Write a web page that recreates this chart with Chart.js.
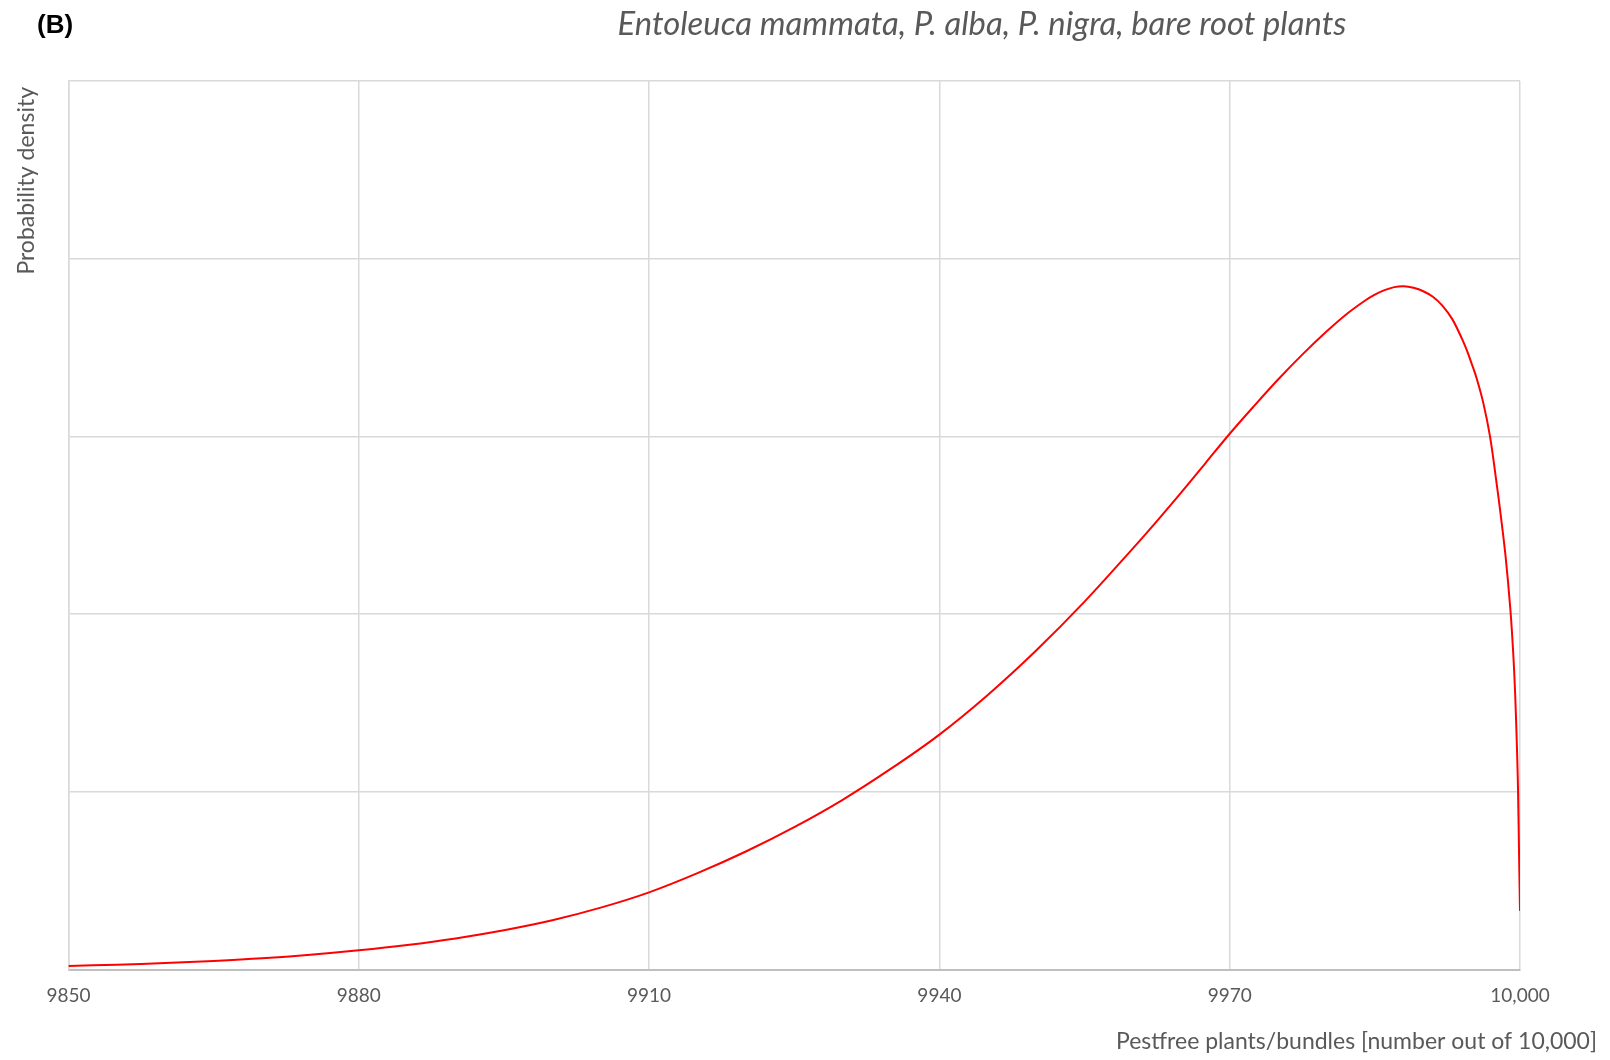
<!DOCTYPE html>
<html>
<head>
<meta charset="utf-8">
<script src="https://cdn.jsdelivr.net/npm/chart.js@4.4.1/dist/chart.umd.min.js"></script>
<style>
  body { margin: 0; background: #fff; }
  canvas { display: block; }
</style>
</head>
<body>
<canvas id="grafico" width="1610" height="1060"></canvas>
<script>
// valores
const pestfree = [9850, 9855, 9860, 9865, 9870, 9875, 9880, 9885, 9890, 9895, 9900, 9905,
  9910, 9915, 9920, 9925, 9930, 9935, 9940, 9945, 9950, 9955, 9960, 9962.5, 9965, 9967.5, 9970,
  9972.5, 9975, 9977.5, 9980, 9982, 9984, 9985, 9986, 9987, 9988, 9989, 9990, 9991, 9992, 9993,
  9994, 9994.5, 9995, 9995.5, 9996.2, 9996.9, 9997.5, 9998, 9998.5, 9999, 9999.3, 9999.5,
  9999.7, 9999.8, 9999.9, 10000];
const density = [0.020, 0.027, 0.036, 0.048, 0.063, 0.083, 0.108, 0.138, 0.175, 0.221, 0.277, 0.348,
  0.434, 0.542, 0.664, 0.801, 0.955, 1.130, 1.322, 1.545, 1.795, 2.070, 2.370, 2.525, 2.685, 2.850, 3.015,
  3.170, 3.320, 3.460, 3.590, 3.685, 3.765, 3.798, 3.823, 3.840, 3.845, 3.836, 3.817, 3.786, 3.735, 3.660,
  3.550, 3.485, 3.410, 3.330, 3.190, 3.000, 2.770, 2.560, 2.330, 2.030, 1.780, 1.550,
  1.220, 1.000, 0.660, 0.330];
const xTickValues = [9850, 9880, 9910, 9940, 9970, 10000];
const xTickLabels = ["9850", "9880", "9910", "9940", "9970", "10,000"];

const panelLabel = "(B)";
const chartTitle = "Entoleuca mammata, P. alba, P. nigra, bare root plants";
const yTitle = "Probability density";
const xTitle = "Pestfree plants/bundles [number out of 10,000]";

const gris = "#595959";

// textos fuera del area del grafico
const textos = {
  id: "textos",
  afterDraw(chart) {
    const ctx = chart.ctx;
    ctx.save();
    ctx.textBaseline = "alphabetic";

    ctx.fillStyle = "#000";
    ctx.font = 'bold 26px "Liberation Sans"';
    ctx.textAlign = "left";
    ctx.fillText(panelLabel, 37, 33);

    ctx.fillStyle = gris;
    ctx.font = 'italic 32.8px Lato';
    ctx.textAlign = "center";
    ctx.fillText(chartTitle, 982, 35);

    ctx.font = '23px Lato';
    ctx.textAlign = "right";
    ctx.fillText(xTitle, 1597, 1049);

    ctx.translate(34, 87);
    ctx.rotate(-Math.PI / 2);
    ctx.textAlign = "right";
    ctx.fillText(yTitle, 0, 0);
    ctx.restore();
  }
};

const ctx = document.getElementById("grafico").getContext("2d");
new Chart(ctx, {
  type: "line",
  data: {
    datasets: [
      {
        data: pestfree.map((x, i) => ({ x: x, y: density[i] })),
        borderColor: "#ff0000",
        borderWidth: 2,
        pointRadius: 0,
        fill: false,
        tension: 0.35,
      },
    ],
  },
  options: {
    responsive: false,
    animation: false,
    layout: { padding: { left: 0, top: 81, right: 90, bottom: 0 } },
    plugins: { legend: { display: false }, tooltip: { enabled: false } },
    scales: {
      x: {
        type: "linear",
        min: 9850,
        max: 10000,
        afterBuildTicks: (scale) => {
          scale.ticks = xTickValues.map((v) => ({ value: v }));
        },
        ticks: {
          padding: 15,
          color: gris,
          font: { family: "Lato", size: 19 },
          callback: (value) => xTickLabels[xTickValues.indexOf(value)],
        },
        grid: { color: "#d9d9d9", lineWidth: 1.5, drawTicks: false },
        border: { color: "#bfbfbf", width: 2 },
        afterFit: (scale) => { scale.height = 90.5; },
      },
      y: {
        min: 0,
        max: 5,
        ticks: { display: false, stepSize: 1 },
        grid: { color: "#d9d9d9", lineWidth: 1.5, drawTicks: false },
        border: { color: "#d9d9d9", width: 1.5 },
        afterFit: (scale) => { scale.width = 68.5; },
      },
    },
  },
  plugins: [textos],
});
</script>
</body>
</html>
